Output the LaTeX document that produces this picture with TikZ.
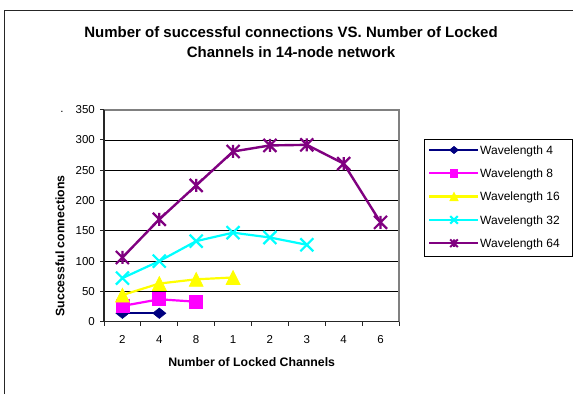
\documentclass[tikz,border=0pt]{standalone}
\usepackage{fontspec}
\setmainfont{Liberation Sans}
\usetikzlibrary{plotmarks}
\definecolor{wnavy}{HTML}{000080}
\definecolor{wmag}{HTML}{FF00FF}
\definecolor{wyel}{HTML}{FFFF00}
\definecolor{wcyan}{HTML}{00FFFF}
\definecolor{wpurp}{HTML}{800080}
\definecolor{plotgray}{HTML}{808080}
\pgfdeclareplotmark{mydiamond}{%
 \pgfpathmoveto{\pgfqpoint{0pt}{0.8\pgfplotmarksize}}%
 \pgfpathlineto{\pgfqpoint{\pgfplotmarksize}{0pt}}%
 \pgfpathlineto{\pgfqpoint{0pt}{-0.8\pgfplotmarksize}}%
 \pgfpathlineto{\pgfqpoint{-\pgfplotmarksize}{0pt}}%
 \pgfpathclose\pgfusepathqfillstroke}
\pgfdeclareplotmark{mysquare}{%
 \pgfpathrectangle{\pgfqpoint{-\pgfplotmarksize}{-\pgfplotmarksize}}{\pgfqpoint{2\pgfplotmarksize}{2\pgfplotmarksize}}%
 \pgfusepathqfillstroke}
\pgfdeclareplotmark{mytri}{%
 \pgfpathmoveto{\pgfqpoint{0pt}{\pgfplotmarksize}}%
 \pgfpathlineto{\pgfqpoint{\pgfplotmarksize}{-\pgfplotmarksize}}%
 \pgfpathlineto{\pgfqpoint{-\pgfplotmarksize}{-\pgfplotmarksize}}%
 \pgfpathclose\pgfusepathqfillstroke}
\pgfdeclareplotmark{myx}{%
 \pgfpathmoveto{\pgfqpoint{-\pgfplotmarksize}{-\pgfplotmarksize}}%
 \pgfpathlineto{\pgfqpoint{\pgfplotmarksize}{\pgfplotmarksize}}%
 \pgfpathmoveto{\pgfqpoint{-\pgfplotmarksize}{\pgfplotmarksize}}%
 \pgfpathlineto{\pgfqpoint{\pgfplotmarksize}{-\pgfplotmarksize}}%
 \pgfusepathqstroke}
\pgfdeclareplotmark{mystar}{%
 \pgfpathmoveto{\pgfqpoint{-\pgfplotmarksize}{-\pgfplotmarksize}}%
 \pgfpathlineto{\pgfqpoint{\pgfplotmarksize}{\pgfplotmarksize}}%
 \pgfpathmoveto{\pgfqpoint{-\pgfplotmarksize}{\pgfplotmarksize}}%
 \pgfpathlineto{\pgfqpoint{\pgfplotmarksize}{-\pgfplotmarksize}}%
 \pgfpathmoveto{\pgfqpoint{0pt}{-\pgfplotmarksize}}%
 \pgfpathlineto{\pgfqpoint{0pt}{\pgfplotmarksize}}%
 \pgfusepathqstroke}
\tikzset{
 sfour/.style={wnavy, line width=2pt, mark=mydiamond, mark size=6.5pt, mark options={fill=wnavy, line width=0.6pt}},
 seight/.style={wmag, line width=2.2pt, mark=mysquare, mark size=6.5pt, mark options={fill=wmag, line width=0.8pt}},
 ssixteen/.style={wyel, line width=2.2pt, mark=mytri, mark size=7pt, mark options={fill=wyel, line width=0.6pt}},
 sthirtytwo/.style={wcyan, line width=2.2pt, mark=myx, mark size=6.5pt, mark options={line width=2.2pt}},
 ssixtyfour/.style={wpurp, line width=2.4pt, mark=mystar, mark size=6.5pt, mark options={line width=2.2pt}},
 ticklab/.style={inner sep=0pt, font=\fontsize{11.5}{13}\selectfont},
 axtitle/.style={inner sep=0pt, font=\bfseries\fontsize{12.3}{14}\selectfont},
 titletext/.style={inner sep=0pt, font=\bfseries\fontsize{15}{18}\selectfont},
 legtext/.style={inner sep=0pt, anchor=base west, font=\fontsize{12}{14}\selectfont},
 gridline/.style={black, line width=0.8pt},
 axisline/.style={black!85, line width=1.3pt},
}
\begin{document}
\begin{tikzpicture}[x=1pt,y=1pt]
\useasboundingbox (0,0) rectangle (573,394);
\fill[white] (0,0) rectangle (573,394);
% outer chart frame
\draw[black!85, line width=1.6pt] (4.5,0) -- (4.5,383.5) -- (573,383.5);
% title
\node[titletext, anchor=base] (title1) at (291,356.3) {Number of successful connections VS. Number of Locked};
\node[titletext, anchor=base] (title2) at (291,336.3) {Channels in 14-node network};
% plot area
\begin{scope}[shift={(104pt,72.3pt)}, x=36.875pt, y=0.6057pt]
 \foreach \v in {50,100,...,300} \draw[gridline] (0,\v) -- (8,\v);
 \draw[plotgray, line width=2pt] (0,350) -- (8,350) -- (8,0);
 \draw[axisline] (0,350) -- (0,0) -- (8,0);
 \foreach \v in {0,50,...,350} {
  \draw[axisline, line width=1pt] (0,\v) -- ++(-4.5pt,0);
  \node[ticklab, anchor=east] (yl\v) at ([xshift=-9pt]0,\v) {\v};
 }
 \foreach \i in {0,...,8} \draw[axisline, line width=1pt] (\i,0) -- ++(0,-4.5pt);
 \foreach \lab [count=\i] in {2,4,8,1,2,3,4,6}
  \node[ticklab] (xl\i) at ([yshift=-17.5pt]\i-0.5,0) {\lab};
 % series
 \draw[sfour] plot coordinates {(0.5,14) (1.5,14)};
 \draw[seight] plot coordinates {(0.5,26) (1.5,37) (2.5,33)};
 \draw[ssixteen] plot coordinates {(0.5,44) (1.5,63) (2.5,70) (3.5,73)};
 \draw[sthirtytwo] plot coordinates {(0.5,72) (1.5,100) (2.5,133) (3.5,147) (4.5,139) (5.5,127)};
 \draw[ssixtyfour] plot coordinates {(0.5,106) (1.5,169) (2.5,225) (3.5,281) (4.5,291) (5.5,292) (6.5,261) (7.5,164)};
\end{scope}
% axis titles
\node[axtitle, anchor=base] (xtitle) at (251.7,27.3) {Number of Locked Channels};
\node[axtitle, anchor=base, rotate=90] (ytitle) at (64.3,148) {Successful connections};
\node[ticklab, anchor=base] (dot) at (62,281.5) {.};
% legend
\draw[black, line width=0.9pt] (424,137.5) rectangle (572,254.7);
\draw[wnavy, line width=2pt] (429,244) -- (478,244);
\draw[sfour, mark size=4.5pt] plot coordinates {(454,244)};
\node[legtext] (l4) at (480,239.7) {Wavelength 4};
\draw[wmag, line width=2.2pt] (429,220.7) -- (478,220.7);
\draw[seight, mark size=3.8pt] plot coordinates {(454,220.7)};
\node[legtext] (l8) at (480,216.4) {Wavelength 8};
\draw[wyel, line width=2.2pt] (429,197.4) -- (478,197.4);
\draw[ssixteen, mark size=4.2pt] plot coordinates {(454,197.4)};
\node[legtext] (l16) at (480,193.1) {Wavelength 16};
\draw[wcyan, line width=2.2pt] (429,174.1) -- (478,174.1);
\draw[sthirtytwo, mark size=3.8pt, mark options={line width=2pt}] plot coordinates {(454,174.1)};
\node[legtext] (l32) at (480,169.8) {Wavelength 32};
\draw[wpurp, line width=2.4pt] (429,150.8) -- (478,150.8);
\draw[ssixtyfour, mark size=3.8pt, mark options={line width=2pt}] plot coordinates {(454,150.8)};
\node[legtext] (l64) at (480,146.5) {Wavelength 64};
\end{tikzpicture}
\end{document}
